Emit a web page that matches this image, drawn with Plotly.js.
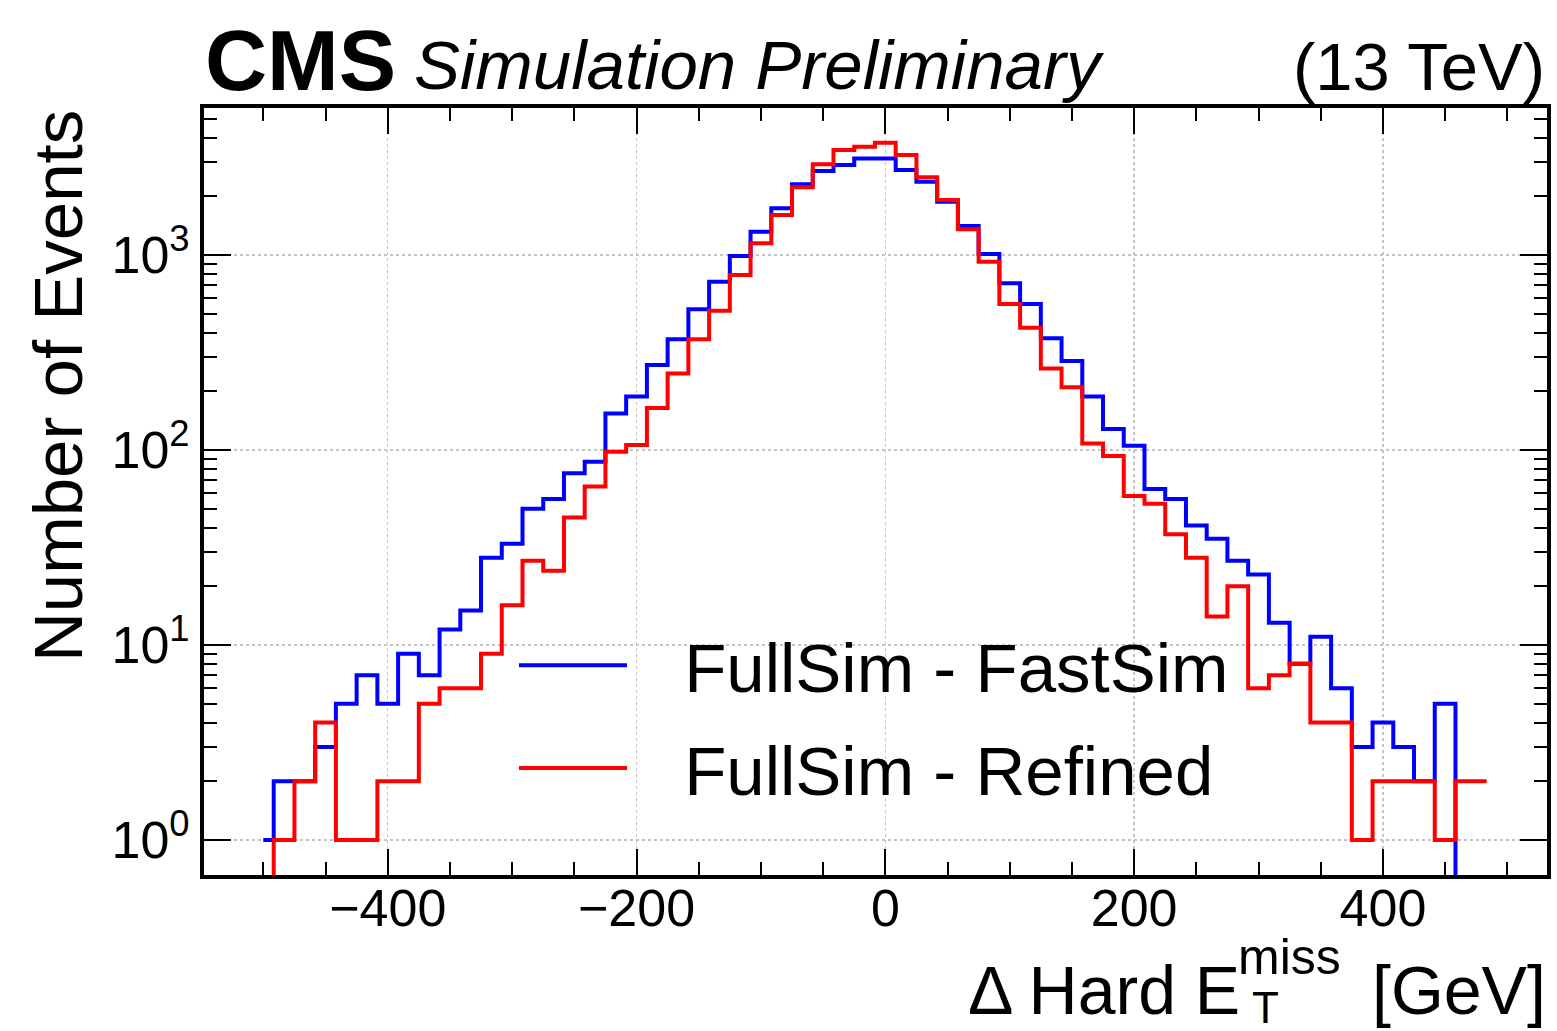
<!DOCTYPE html>
<html>
<head>
<meta charset="utf-8">
<script src="https://cdn.plot.ly/plotly-3.0.1.min.js"></script>
<style>
  html, body { margin: 0; padding: 0; background: #ffffff; }
  #chart { width: 1557px; height: 1031px; }
</style>
</head>
<body>
<div id="chart"></div>
<script>
// ---- Data (bin centres in GeV, event counts per bin) ----
const binCenters = [
  -500, -483.33, -466.67, -450, -433.33, -416.67, -400, -383.33, -366.67, -350,
  -333.33, -316.67, -300, -283.33, -266.67, -250, -233.33, -216.67, -200, -183.33,
  -166.67, -150, -133.33, -116.67, -100, -83.33, -66.67, -50, -33.33, -16.67,
  0, 16.67, 33.33, 50, 66.67, 83.33, 100, 116.67, 133.33, 150,
  166.67, 183.33, 200, 216.67, 233.33, 250, 266.67, 283.33, 300, 316.67,
  333.33, 350, 366.67, 383.33, 400, 416.67, 433.33, 450, 466.67, 483.33
];
const fullVsFast = [
  1, 2, 2, 3, 5, 7, 5, 9, 7, 12,
  15, 28, 33, 50, 56, 76, 87, 154, 188, 273,
  370, 527, 730, 988, 1318, 1735, 2305, 2697, 2896, 3130,
  3130, 2729, 2376, 1874, 1409, 1012, 716, 561, 374, 286,
  188, 128, 105, 63, 56, 41, 35, 27, 23, 13,
  8, 11, 6, 3, 4, 3, 2, 5, 0, 0
];
const fullVsRefined = [
  0, 1, 2, 4, 1, 1, 2, 2, 5, 6,
  6, 9, 16, 27, 24, 45, 65, 98, 106, 164,
  247, 370, 518, 789, 1148, 1603, 2224, 2918, 3452, 3590,
  3766, 3258, 2502, 1914, 1354, 924, 561, 424, 262, 210,
  108, 93, 58, 53, 37, 28, 14, 20, 6, 7,
  8, 4, 4, 1, 2, 2, 2, 1, 2, 2
];
const seriesNames = ["FullSim - FastSim", "FullSim - Refined"];
const yTickValues = [1, 10, 100, 1000];
const yTickLabels = ["10<sup>0</sup>", "10<sup>1</sup>", "10<sup>2</sup>", "10<sup>3</sup>"];

// ---- Helpers ----
// empty bins cannot be shown on a log axis: draw them far below the visible range
const forLog = arr => arr.map(v => (v > 0 ? v : 1e-3));

const W = 1557, H = 1031;
const L = 204, R = 10, T = 108, B = 156;
const PW = W - L - R, PH = H - T - B;
const px = x => (x - L) / PW;          // pixel -> paper x
const py = y => (H - B - y) / PH;      // pixel -> paper y

const FONT = "Liberation Sans, Arial, Helvetica, sans-serif";
const GAP = "\u00a0\u00a0\u2009";       // space between legend line and label

// minor log ticks 2..9 per decade
const minorLog = [];
for (let d = 0; d <= 3; d++) for (let m = 2; m <= 9; m++) minorLog.push(m * Math.pow(10, d));

const traces = [
  {
    x: binCenters, y: forLog(fullVsFast), name: GAP + seriesNames[0],
    type: "scatter", mode: "lines",
    line: { shape: "hvh", color: "#0000ff", width: 4 },
    legendgroup: "a"
  },
  {
    x: binCenters, y: forLog(fullVsRefined), name: GAP + seriesNames[1],
    type: "scatter", mode: "lines",
    line: { shape: "hvh", color: "#ff0000", width: 4 },
    legendgroup: "b"
  }
];

const layout = {
  width: W, height: H, autosize: false,
  margin: { l: L, r: R, t: T, b: B, pad: 0 },
  paper_bgcolor: "#ffffff", plot_bgcolor: "#ffffff",
  font: { family: FONT, color: "#000000", size: 52 },
  showlegend: true,
  legend: {
    x: px(514), y: py(614), xanchor: "left", yanchor: "top",
    bgcolor: "rgba(0,0,0,0)", borderwidth: 0,
    font: { family: FONT, size: 69, color: "#000000" },
    itemwidth: 108, tracegroupgap: 10
  },
  xaxis: {
    range: [-547.7, 531.9],
    tick0: 0, dtick: 200,
    ticks: "inside", ticklen: 26, tickwidth: 2, tickcolor: "#000000",
    showline: true, linewidth: 4, linecolor: "#000000", mirror: "allticks",
    showgrid: true, gridcolor: "#c4c4c4", gridwidth: 1.3, griddash: "dot",
    zeroline: false,
    ticklabelstandoff: -15,
    tickfont: { family: FONT, size: 52, color: "#000000" },
    minor: { ticks: "inside", ticklen: 13, tickwidth: 2, tickcolor: "#000000",
             tick0: 0, dtick: 50, showgrid: false }
  },
  yaxis: {
    type: "log",
    range: [-0.18, 3.754],
    tickmode: "array", tickvals: yTickValues, ticktext: yTickLabels,
    ticks: "inside", ticklen: 27, tickwidth: 2, tickcolor: "#000000",
    showline: true, linewidth: 4, linecolor: "#000000", mirror: "allticks",
    showgrid: true, gridcolor: "#c4c4c4", gridwidth: 1.3, griddash: "dot",
    zeroline: false,
    tickfont: { family: FONT, size: 52, color: "#000000" },
    minor: { ticks: "inside", ticklen: 13, tickwidth: 2, tickcolor: "#000000",
             tickmode: "array", tickvals: minorLog, showgrid: false }
  },
  annotations: [
    { text: "<b>CMS</b>", xref: "paper", yref: "paper", x: px(203), y: py(60),
      xanchor: "left", yanchor: "middle", showarrow: false,
      font: { family: FONT, size: 86, color: "#000000" } },
    { text: "<i>Simulation Preliminary</i>", xref: "paper", yref: "paper", x: px(412), y: py(66),
      xanchor: "left", yanchor: "middle", showarrow: false,
      font: { family: FONT, size: 69, color: "#000000" } },
    { text: "(13 TeV)", xref: "paper", yref: "paper", x: px(1547), y: py(67),
      xanchor: "right", yanchor: "middle", showarrow: false,
      font: { family: FONT, size: 67, color: "#000000" } },
    { text: "Number of Events", xref: "paper", yref: "paper", x: px(58), y: py(386),
      xanchor: "center", yanchor: "middle", textangle: -90, showarrow: false,
      font: { family: FONT, size: 69, color: "#000000" } },
    { text: "Δ Hard E", xref: "paper", yref: "paper", x: px(966), y: py(990),
      xanchor: "left", yanchor: "middle", showarrow: false,
      font: { family: FONT, size: 68, color: "#000000" } },
    { text: "miss", xref: "paper", yref: "paper", x: px(1236), y: py(957),
      xanchor: "left", yanchor: "middle", showarrow: false,
      font: { family: FONT, size: 50, color: "#000000" } },
    { text: "T", xref: "paper", yref: "paper", x: px(1250), y: py(1007),
      xanchor: "left", yanchor: "middle", showarrow: false,
      font: { family: FONT, size: 44, color: "#000000" } },
    { text: "[GeV]", xref: "paper", yref: "paper", x: px(1548), y: py(990),
      xanchor: "right", yanchor: "middle", showarrow: false,
      font: { family: FONT, size: 68, color: "#000000" } }
  ]
};

Plotly.newPlot("chart", traces, layout, { staticPlot: true, displayModeBar: false });
</script>
</body>
</html>
